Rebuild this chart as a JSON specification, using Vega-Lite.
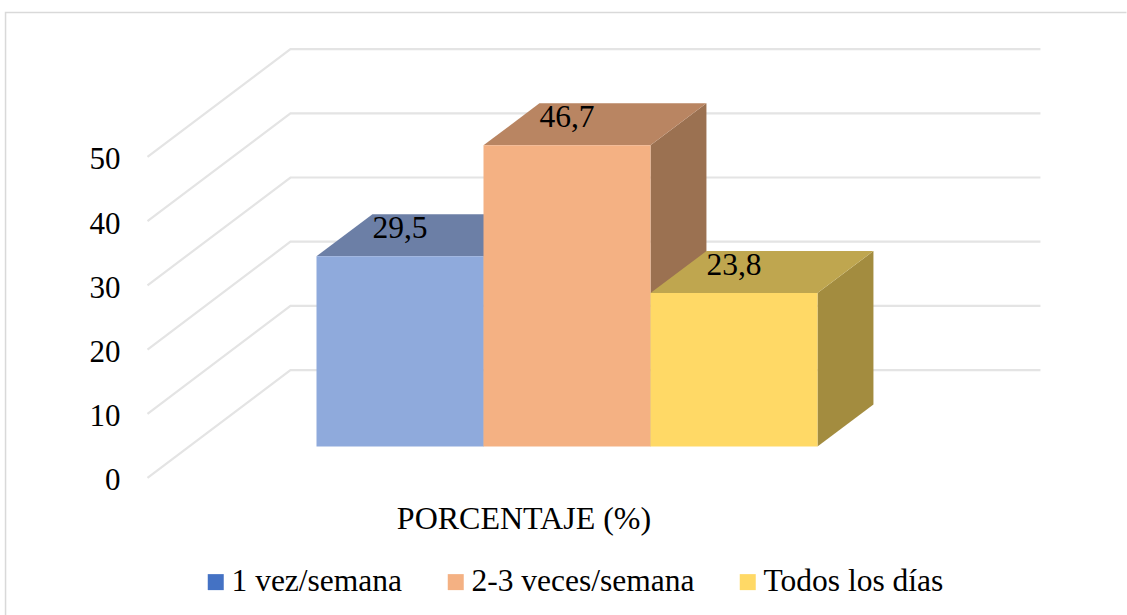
{"$schema":"https://vega.github.io/schema/vega-lite/v6.json","width":1127,"height":615,"padding":0,"autosize":"none","background":"white",
"config":{"font":"Liberation Serif","view":{"stroke":null},"locale":{"number":{"decimal":",","thousands":".","grouping":[3],"currency":["","€"]}}},
"datasets":{
"barras":[{"serie":"1 vez/semana","valor":29.5,"x0":0,"x1":1,"xc":0.5},{"serie":"2-3 veces/semana","valor":46.7,"x0":1,"x1":2,"xc":1.5},{"serie":"Todos los días","valor":23.8,"x0":2,"x1":3,"xc":2.5}],
"tapas":[{"serie":"1 vez/semana","y":29.5,"xa":0,"xb":1},{"serie":"1 vez/semana","y":36,"xa":0.335,"xb":1.335},{"serie":"2-3 veces/semana","y":46.7,"xa":1,"xb":2},{"serie":"2-3 veces/semana","y":53.2,"xa":1.335,"xb":2.335},{"serie":"Todos los días","y":23.8,"xa":2,"xb":3},{"serie":"Todos los días","y":30.3,"xa":2.335,"xb":3.335}],
"lados":[{"serie":"1 vez/semana","x":1,"y":29.5,"y2":0},{"serie":"1 vez/semana","x":1.335,"y":36,"y2":6.5},{"serie":"2-3 veces/semana","x":2,"y":46.7,"y2":0},{"serie":"2-3 veces/semana","x":2.335,"y":53.2,"y2":6.5},{"serie":"Todos los días","x":3,"y":23.8,"y2":0},{"serie":"Todos los días","x":3.335,"y":30.3,"y2":6.5}],
"rejilla":[
{"nivel":0,"o":1,"x":-1.012,"y":0},{"nivel":0,"o":2,"x":-0.156,"y":16.8},{"nivel":0,"o":3,"x":4.335,"y":16.8},
{"nivel":10,"o":1,"x":-1.012,"y":10},{"nivel":10,"o":2,"x":-0.156,"y":26.8},{"nivel":10,"o":3,"x":4.335,"y":26.8},
{"nivel":20,"o":1,"x":-1.012,"y":20},{"nivel":20,"o":2,"x":-0.156,"y":36.8},{"nivel":20,"o":3,"x":4.335,"y":36.8},
{"nivel":30,"o":1,"x":-1.012,"y":30},{"nivel":30,"o":2,"x":-0.156,"y":46.8},{"nivel":30,"o":3,"x":4.335,"y":46.8},
{"nivel":40,"o":1,"x":-1.012,"y":40},{"nivel":40,"o":2,"x":-0.156,"y":56.8},{"nivel":40,"o":3,"x":4.335,"y":56.8},
{"nivel":50,"o":1,"x":-1.012,"y":50},{"nivel":50,"o":2,"x":-0.156,"y":66.8},{"nivel":50,"o":3,"x":4.335,"y":66.8}],
"marco":[{"o":1,"x":-1.862,"y":-21.34},{"o":2,"x":-1.862,"y":72.5},{"o":3,"x":4.85,"y":72.5}]
},
"resolve":{"scale":{"y":"independent","fill":"independent"},"axis":{"y":"independent","x":"independent"}},
"layer":[
{"data":{"name":"marco"},"mark":{"type":"line","stroke":"#d9d9d9","strokeWidth":1.5},
"encoding":{"order":{"field":"o"},"x":{"field":"x","type":"quantitative","scale":{"domain":[-1.8952,4.8533],"nice":false,"zero":false},"axis":null},"y":{"field":"y","type":"quantitative","scale":{"domain":[-21.34,74.45],"nice":false,"zero":false},"axis":null}}},
{"data":{"name":"rejilla"},"mark":{"type":"line","stroke":"#e4e4e4","strokeWidth":2.2},
"encoding":{"detail":{"field":"nivel"},"order":{"field":"o"},
"x":{"field":"x","type":"quantitative","scale":{"domain":[-1.8952,4.8533],"nice":false,"zero":false},
"axis":{"orient":"bottom","title":"PORCENTAJE (%)","titleFontSize":32,"titleFont":"Liberation Serif","titleFontWeight":"normal","titleColor":"black","titleX":523.5,"titleY":-97,"titleAlign":"center","titleBaseline":"middle","titleAnchor":null,"labels":false,"ticks":false,"domain":false,"grid":false}},
"y":{"field":"y","type":"quantitative","scale":{"domain":[-21.34,74.45],"nice":false,"zero":false},
"axis":{"orient":"left","values":[0,10,20,30,40,50],"title":null,"offset":-125,"labelFontSize":31,"labelFont":"Liberation Serif","labelColor":"black","labelPadding":5,"labelOffset":3,"ticks":false,"domain":false,"grid":false,"labelOverlap":false,"labelBound":false}}}},
{"data":{"name":"lados"},"mark":{"type":"area","orient":"vertical"},
"encoding":{"x":{"field":"x","type":"quantitative","scale":{"domain":[-1.8952,4.8533],"nice":false,"zero":false},"axis":null},
"y":{"field":"y","type":"quantitative","stack":null,"scale":{"domain":[-26.12,69.22],"nice":false,"zero":false},"axis":null},
"y2":{"field":"y2"},
"fill":{"field":"serie","type":"nominal","legend":null,"scale":{"domain":["1 vez/semana","2-3 veces/semana","Todos los días"],"range":["#5E6F91","#9B7151","#A38C3F"]}}}},
{"data":{"name":"tapas"},"mark":{"type":"area","orient":"horizontal"},
"encoding":{"y":{"field":"y","type":"quantitative","scale":{"domain":[-26.12,69.22],"nice":false,"zero":false},"axis":null},
"x":{"field":"xa","type":"quantitative","stack":null,"scale":{"domain":[-1.8952,4.8533],"nice":false,"zero":false},"axis":null},
"x2":{"field":"xb"},
"fill":{"field":"serie","type":"nominal","legend":null,"scale":{"domain":["1 vez/semana","2-3 veces/semana","Todos los días"],"range":["#6C7FA6","#B98562","#BFA64F"]}}}},
{"data":{"name":"barras"},"mark":{"type":"rect"},
"encoding":{"x":{"field":"x0","type":"quantitative","scale":{"domain":[-1.8952,4.8533],"nice":false,"zero":false},"axis":null},"x2":{"field":"x1"},
"y":{"field":"valor","type":"quantitative","scale":{"domain":[-26.12,69.22],"nice":false,"zero":false},"axis":null},"y2":{"datum":0},
"fill":{"field":"serie","type":"nominal","legend":null,"scale":{"domain":["1 vez/semana","2-3 veces/semana","Todos los días"],"range":["#8FAADC","#F4B183","#FFD966"]}}}},
{"data":{"name":"barras"},"mark":{"type":"text","fontSize":31.5,"font":"Liberation Serif","color":"black","dy":-27,"align":"center","baseline":"middle"},
"encoding":{"x":{"field":"xc","type":"quantitative","scale":{"domain":[-1.8952,4.8533],"nice":false,"zero":false},"axis":null},
"y":{"field":"valor","type":"quantitative","scale":{"domain":[-26.12,69.22],"nice":false,"zero":false},"axis":null},
"text":{"field":"valor","type":"quantitative","format":".1f"}}},
{"data":{"name":"barras"},"mark":{"type":"square","opacity":0},
"encoding":{"x":{"field":"xc","type":"quantitative","scale":{"domain":[-1.8952,4.8533],"nice":false,"zero":false},"axis":null},
"y":{"field":"valor","type":"quantitative","scale":{"domain":[-26.12,69.22],"nice":false,"zero":false},"axis":null},
"fill":{"field":"serie","type":"nominal","scale":{"domain":["1 vez/semana","2-3 veces/semana","Todos los días"],"range":["#4472C4","#F4B183","#FFD966"]},
"legend":{"orient":"none","legendX":200,"legendY":566,"direction":"horizontal","columns":3,"title":null,"symbolType":"square","symbolSize":256,"symbolOpacity":1,"symbolStrokeWidth":0,"labelFontSize":31.5,"labelFont":"Liberation Serif","labelColor":"black","labelOffset":0,"columnPadding":37,"labelLimit":400}}}}
]}
